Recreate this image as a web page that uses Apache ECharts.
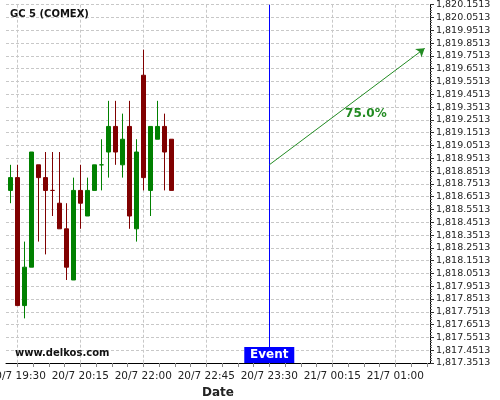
<!DOCTYPE html>
<html>
<head>
<meta charset="utf-8">
<script src="https://cdn.jsdelivr.net/npm/echarts@6/dist/echarts.min.js"></script>
<style>html,body{margin:0;padding:0;background:#fff}#c{width:500px;height:400px}</style>
</head>
<body>
<div id="c"></div>
<script>
// ---- data ----
const candleOpen  = [1818.7,1818.8,1817.8,1818.1,1818.9,1818.8,1818.7,1818.6,1818.4,1818.0,1818.7,1818.5,1818.7,1818.9,1819.0,1819.2,1818.9,1819.2,1818.4,1819.6,1818.7,1819.1,1819.2,1819.1];
const candleClose = [1818.8,1817.8,1818.1,1819.0,1818.8,1818.7,1818.7,1818.4,1818.1,1818.7,1818.6,1818.7,1818.9,1818.9,1819.2,1819.0,1819.1,1818.5,1819.0,1818.8,1819.2,1819.2,1819.0,1818.7];
const candleLow   = [1818.6,1817.8,1817.7,1818.1,1818.3,1818.2,1818.5,1818.4,1818.0,1818.0,1818.4,1818.5,1818.7,1818.7,1818.8,1818.9,1818.8,1818.4,1818.3,1818.7,1818.5,1819.1,1818.7,1818.7];
const candleHigh  = [1818.9,1818.9,1818.3,1819.0,1818.9,1819.0,1819.0,1819.0,1818.6,1818.8,1818.9,1818.8,1818.9,1819.1,1819.4,1819.4,1819.3,1819.4,1819.1,1819.8,1819.2,1819.4,1819.3,1819.1];
const tickIdx     = [1, 10, 19, 28, 37, 46, 55];
const tickLabels  = ['20/7 19:30','20/7 20:15','20/7 22:00','20/7 22:45','20/7 23:30','21/7 00:15','21/7 01:00'];
const priceMin = 1817.3513, priceMax = 1820.1513, priceStep = 0.1;
const eventIdx = 37;
const eventLabel = 'Event';
const arrowStart = [37, 1818.90];
const arrowEnd   = [59.2, 1819.81];
const arrowLabel = '75.0%';
const arrowLabelAt = [50.8, 1819.30];
const titleText = 'GC 5 (COMEX)';
const siteText = 'www.delkos.com';

// ---- build ----
const UP = '#008000', DOWN = '#800000', GREEN = '#228B22', BLUE = '#0000FF';
const base = priceMin;
const xMin = -0.61, xMax = 59.96;
function fmtPrice(v){
  const s = (v + base).toFixed(4);
  const parts = s.split('.');
  return parts[0].replace(/\B(?=(\d{3})+(?!\d))/g, ',') + '.' + parts[1];
}
const candleData = candleOpen.map((o, i) => {
  const item = { value: [i, o - base, candleClose[i] - base, candleLow[i] - base, candleHigh[i] - base] };
  if (o === candleClose[i] && i > 0) {
    const c = candleClose[i-1] >= candleOpen[i-1] ? UP : DOWN;
    item.itemStyle = { color: c, borderColor: c, color0: c, borderColor0: c };
  }
  return item;
});
const minorX = [];
for (let v = tickIdx[0]; v <= xMax; v += 2.25) minorX.push(v);

const chart = echarts.init(document.getElementById('c'), null, {renderer: 'canvas'});
chart.setOption({
  animation: false,
  textStyle: { fontFamily: 'DejaVu Sans' },
  title: [
    { text: titleText, left: 10, top: 9, padding: 0, textStyle: { fontSize: 10, fontWeight: 'bold', color: '#111', fontFamily: 'DejaVu Sans' } },
    { text: siteText, left: 15, top: 348, padding: 0, textStyle: { fontSize: 10, fontWeight: 'bold', color: '#111', fontFamily: 'DejaVu Sans' } }
  ],
  grid: { left: 6, right: 70, top: 4.7, bottom: 37, containLabel: false, outerBoundsMode: 'none' },
  xAxis: [
    {
      type: 'value', min: xMin, max: xMax, position: 'bottom',
      axisLine: { onZero: false, lineStyle: { color: '#000', width: 1 } },
      axisTick: { customValues: tickIdx, length: 4, lineStyle: { color: '#555' } },
      axisLabel: { customValues: tickIdx, formatter: v => tickLabels[tickIdx.indexOf(Math.round(v))] || '', fontSize: 10.5, color: '#222', margin: 8, hideOverlap: false },
      splitLine: { show: true, lineStyle: { color: '#c8c8c8', type: [3, 2] } },
      name: 'Date', nameLocation: 'middle', nameGap: 20,
      nameTextStyle: { fontSize: 12, fontWeight: 'bold', color: '#222' }
    },
    {
      type: 'value', min: xMin, max: xMax, position: 'bottom',
      axisLine: { show: false, onZero: false },
      axisTick: { customValues: minorX, length: 4, lineStyle: { color: '#888' } },
      axisLabel: { show: false },
      splitLine: { show: false }
    }
  ],
  yAxis: {
    type: 'value', position: 'right', min: 0, max: +(priceMax - priceMin).toFixed(4), interval: priceStep,
    axisLine: { show: true, onZero: false, lineStyle: { color: '#000', width: 1 } },
    axisTick: { show: true, length: 4, lineStyle: { color: '#333' } },
    minorTick: { show: true, splitNumber: 5, length: 2, lineStyle: { color: '#666' } },
    axisLabel: { formatter: fmtPrice, fontSize: 9.5, color: '#222', margin: 6 },
    splitLine: { show: true, lineStyle: { color: '#c8c8c8', type: [3, 2] } }
  },
  series: [{
    type: 'candlestick',
    xAxisIndex: 0,
    dimensions: ['idx', 'open', 'close', 'low', 'high'],
    encode: { x: 'idx', y: ['open', 'close', 'low', 'high'] },
    barWidth: 4,
    itemStyle: { color: UP, color0: DOWN, borderColor: UP, borderColor0: DOWN, borderWidth: 1 },
    data: candleData,
    markLine: {
      silent: true, animation: false,
      symbol: ['none', 'none'],
      label: { show: false },
      lineStyle: { color: BLUE, width: 1, type: 'solid', opacity: 1 },
      data: [
        { xAxis: eventIdx, lineStyle: { color: BLUE, width: 1, type: 'solid' } },
        [
          { coord: [arrowStart[0], arrowStart[1] - base], symbol: 'none', lineStyle: { color: GREEN, width: 1, type: 'solid' } },
          { coord: [arrowEnd[0], arrowEnd[1] - base], symbol: 'arrow', symbolSize: 8 }
        ]
      ]
    },
    markPoint: {
      silent: true, animation: false,
      data: [
        { coord: [eventIdx, 0], symbol: 'rect', symbolSize: [50, 16], symbolOffset: [0, -8],
          itemStyle: { color: BLUE },
          label: { show: true, position: 'inside', formatter: eventLabel, color: '#fff', fontWeight: 'bold', fontSize: 12, fontFamily: 'DejaVu Sans' } },
        { coord: [arrowLabelAt[0], arrowLabelAt[1] - base], symbol: 'rect', symbolSize: 1,
          itemStyle: { color: 'rgba(0,0,0,0)' },
          label: { show: true, position: 'inside', formatter: arrowLabel, color: GREEN, fontWeight: 'bold', fontSize: 12, fontFamily: 'DejaVu Sans' } }
      ]
    }
  }]
});
</script>
</body>
</html>
